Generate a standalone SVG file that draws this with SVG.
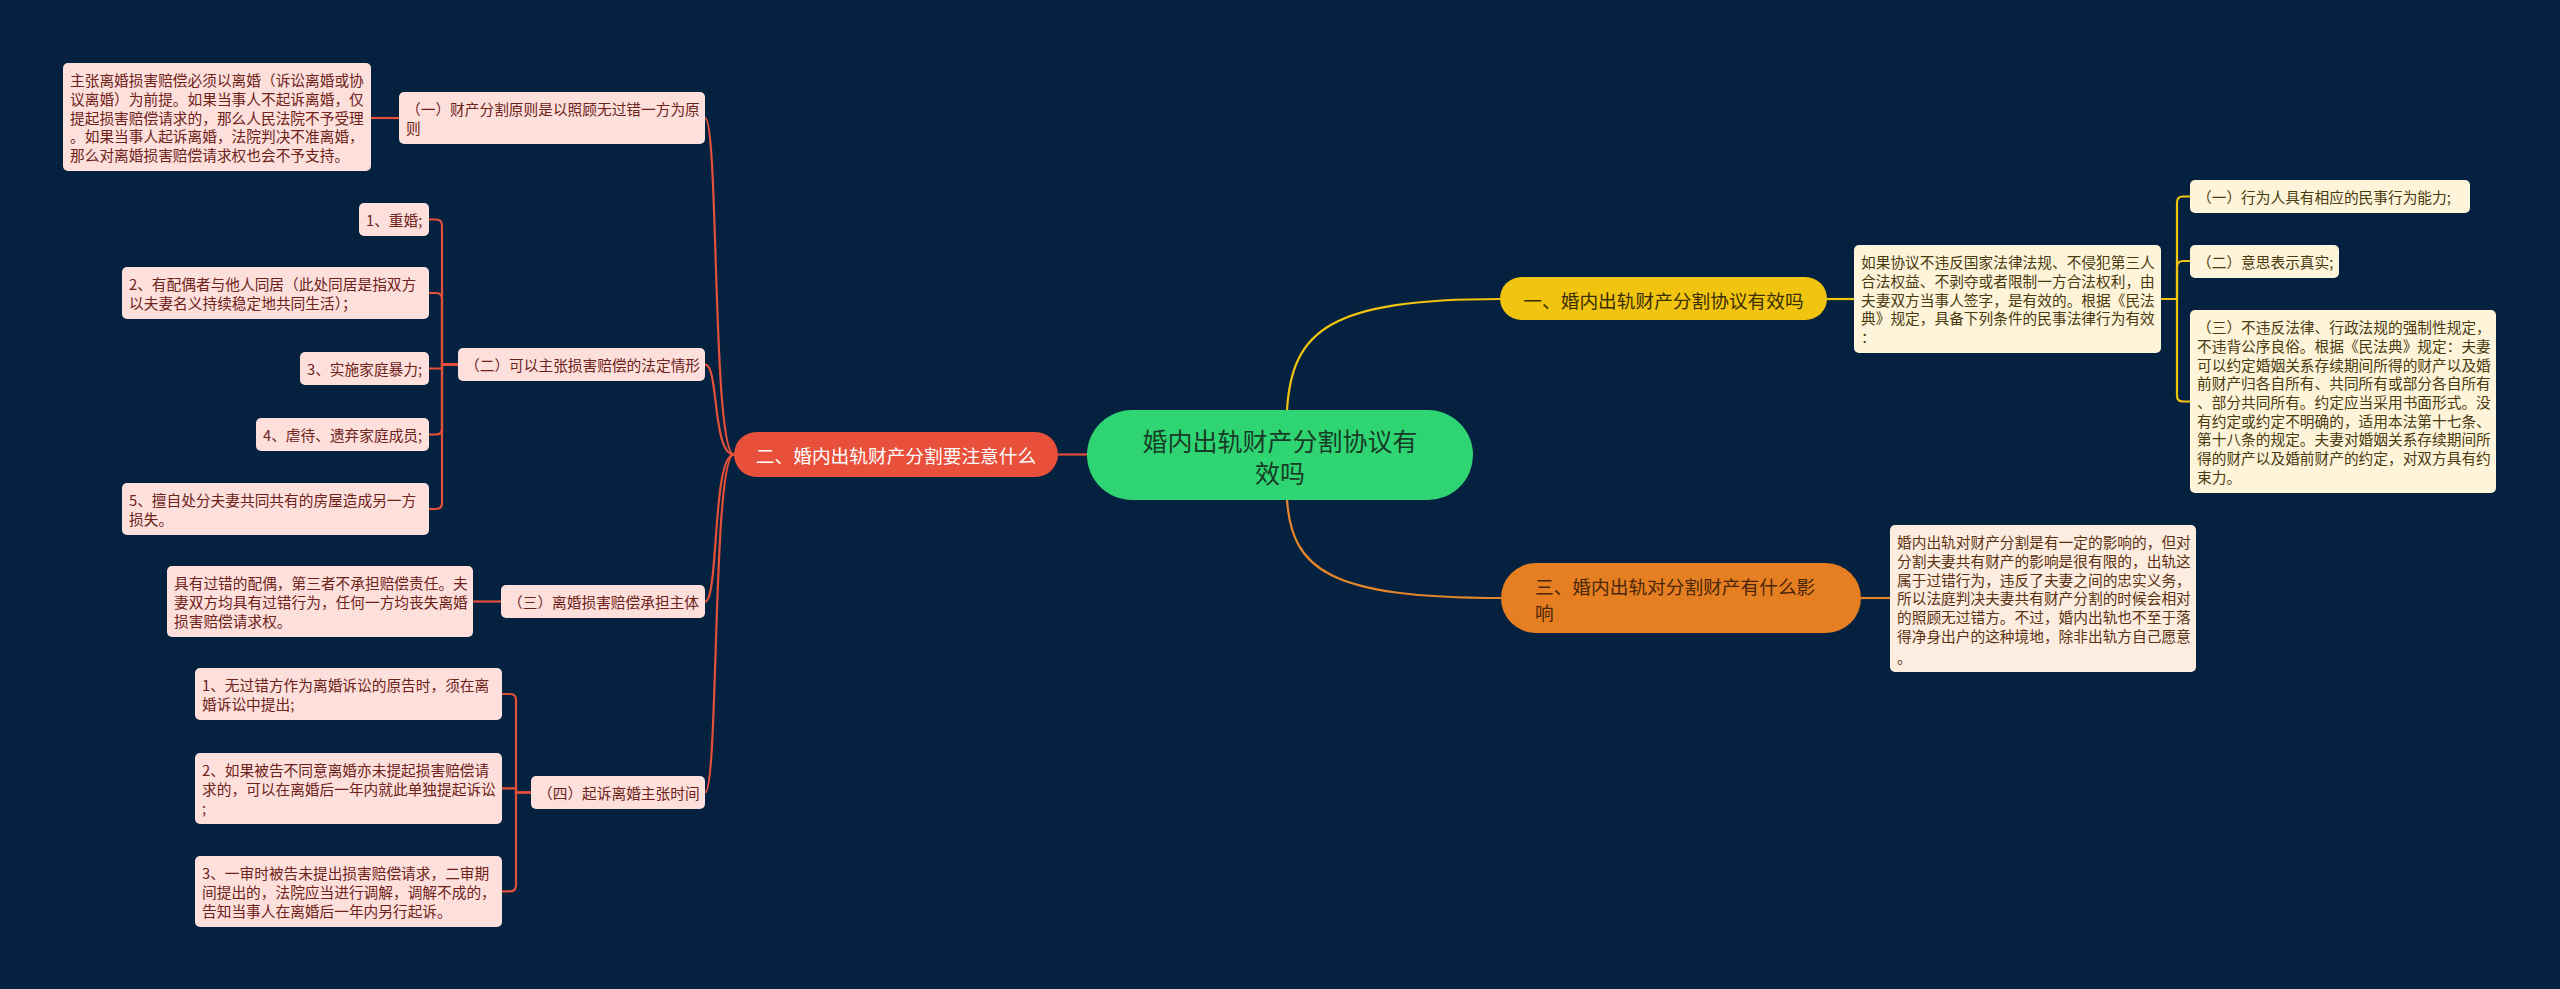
<svg xmlns="http://www.w3.org/2000/svg" width="2560" height="989" viewBox="0 0 2560 989">
<style>
text{font-family:"Noto Sans CJK SC","Noto Sans",sans-serif;dominant-baseline:central}
.lf{font-size:14.7px}
.red rect{fill:#fde0dc}
.red text{fill:#6e2219}
.yel rect{fill:#fdf4d9}
.yel text{fill:#4a3a10}
.org rect{fill:#fdece0}
.org text{fill:#5a3212}
.main{font-size:18.7px}
.lr{fill:none;stroke:#e55039;stroke-width:2.2}
.ly{fill:none;stroke:#f1c40f;stroke-width:2.2}
.lo{fill:none;stroke:#e6862a;stroke-width:2.2}
</style>
<rect x="0" y="0" width="2560" height="989" fill="#04213f"/>
<g id="connectors">
<path class="lr" d="M1087,454.5 H1058"/>
<path class="lr" d="M734,454.5 C712,454.5 719,118 705,118"/>
<path class="lr" d="M734,454.5 C712,454.5 719,364.5 705,364.5"/>
<path class="lr" d="M734,454.5 C712,454.5 719,601.5 705,601.5"/>
<path class="lr" d="M734,454.5 C712,454.5 719,792.5 705,792.5"/>
<path class="lr" d="M399,118 H371"/>
<path class="lr" d="M501,601.5 H473"/>
<path class="lr" d="M458,364.5 H442 V225.5 Q442,219.5 436,219.5 H429"/>
<path class="lr" d="M458,364.5 H442 V299 Q442,293 436,293 H429"/>
<path class="lr" d="M458,364.5 H442 V368.5 H429"/>
<path class="lr" d="M458,364.5 H442 V428.5 Q442,434.5 436,434.5 H429"/>
<path class="lr" d="M458,364.5 H442 V503 Q442,509 436,509 H429"/>
<path class="lr" d="M531,792.5 H516 V700 Q516,694 510,694 H502"/>
<path class="lr" d="M531,792.5 H516 V788.3 H502"/>
<path class="lr" d="M531,792.5 H516 V885.3 Q516,891.3 510,891.3 H502"/>
<path class="ly" d="M1287,410 C1292,330 1330,299 1500,299"/>
<path class="ly" d="M1827,299 H1854"/>
<path class="ly" d="M2161,299 H2177 V202.5 Q2177,196.5 2183,196.5 H2190"/>
<path class="ly" d="M2161,299 H2177 V267 Q2177,261 2183,261 H2190"/>
<path class="ly" d="M2161,299 H2177 V395.5 Q2177,401.5 2183,401.5 H2190"/>
<path class="lo" d="M1287,500 C1292,570 1330,598 1501,598"/>
<path class="lo" d="M1861,598 H1890"/>
</g>
<g id="center">
<rect x="1087" y="410" width="386" height="90" rx="45" fill="#2fd573"/>
<text x="1280" y="440" font-size="25" text-anchor="middle" fill="#173d26">婚内出轨财产分割协议有</text>
<text x="1280" y="472" font-size="25" text-anchor="middle" fill="#173d26">效吗</text>
</g>
<g id="main2">
<rect x="734" y="432" width="324" height="45" rx="22.5" fill="#e8503c"/>
<text class="main" x="896" y="454.5" text-anchor="middle" fill="#ffffff">二、婚内出轨财产分割要注意什么</text>
</g>
<g id="main1">
<rect x="1500" y="277" width="327" height="43" rx="21.5" fill="#f1c40f"/>
<text class="main" x="1663.5" y="299" text-anchor="middle" fill="#3a2e05">一、婚内出轨财产分割协议有效吗</text>
</g>
<g id="main3">
<rect x="1501" y="563" width="360" height="70" rx="35" fill="#e67e22"/>
<text class="main" x="1535" y="585" fill="#4a2708">三、婚内出轨对分割财产有什么影</text>
<text class="main" x="1535" y="611.5" fill="#4a2708">响</text>
</g>
<g id="leafA" class="red lf">
<rect x="63" y="63" width="308" height="108" rx="5"/>
<text x="70" y="79.6">主张离婚损害赔偿必须以离婚（诉讼离婚或协</text>
<text x="70" y="98.3">议离婚）为前提。如果当事人不起诉离婚，仅</text>
<text x="70" y="117">提起损害赔偿请求的，那么人民法院不予受理</text>
<text x="70" y="135.7">。如果当事人起诉离婚，法院判决不准离婚，</text>
<text x="70" y="154.4">那么对离婚损害赔偿请求权也会不予支持。</text>
</g>
<g id="sub1" class="red lf">
<rect x="399" y="92" width="306" height="52" rx="5"/>
<text x="406" y="108.6">（一）财产分割原则是以照顾无过错一方为原</text>
<text x="406" y="127.3">则</text>
</g>
<g id="sub2" class="red lf">
<rect x="458" y="348" width="247" height="33" rx="5"/>
<text x="465" y="364.5">（二）可以主张损害赔偿的法定情形</text>
</g>
<g id="s2c1" class="red lf">
<rect x="359" y="203" width="70" height="33" rx="5"/>
<text x="366" y="219.5">1、重婚;</text>
</g>
<g id="s2c2" class="red lf">
<rect x="122" y="267" width="307" height="52" rx="5"/>
<text x="129" y="283.6">2、有配偶者与他人同居（此处同居是指双方</text>
<text x="129" y="302.3">以夫妻名义持续稳定地共同生活）；</text>
</g>
<g id="s2c3" class="red lf">
<rect x="300" y="352" width="129" height="33" rx="5"/>
<text x="307" y="368.5">3、实施家庭暴力;</text>
</g>
<g id="s2c4" class="red lf">
<rect x="256" y="418" width="173" height="33" rx="5"/>
<text x="263" y="434.5">4、虐待、遗弃家庭成员;</text>
</g>
<g id="s2c5" class="red lf">
<rect x="122" y="483" width="307" height="52" rx="5"/>
<text x="129" y="499.6">5、擅自处分夫妻共同共有的房屋造成另一方</text>
<text x="129" y="518.3">损失。</text>
</g>
<g id="sub3" class="red lf">
<rect x="501" y="585" width="204" height="33" rx="5"/>
<text x="508" y="601.5">（三）离婚损害赔偿承担主体</text>
</g>
<g id="s3c1" class="red lf">
<rect x="167" y="566" width="306" height="71" rx="5"/>
<text x="174" y="582.6">具有过错的配偶，第三者不承担赔偿责任。夫</text>
<text x="174" y="601.3">妻双方均具有过错行为，任何一方均丧失离婚</text>
<text x="174" y="620">损害赔偿请求权。</text>
</g>
<g id="sub4" class="red lf">
<rect x="531" y="776" width="174" height="33" rx="5"/>
<text x="538" y="792.5">（四）起诉离婚主张时间</text>
</g>
<g id="s4c1" class="red lf">
<rect x="195" y="668" width="307" height="52" rx="5"/>
<text x="202" y="684.6">1、无过错方作为离婚诉讼的原告时，须在离</text>
<text x="202" y="703.3">婚诉讼中提出;</text>
</g>
<g id="s4c2" class="red lf">
<rect x="195" y="753" width="307" height="71" rx="5"/>
<text x="202" y="769.6">2、如果被告不同意离婚亦未提起损害赔偿请</text>
<text x="202" y="788.3">求的，可以在离婚后一年内就此单独提起诉讼</text>
<text x="202" y="807">;</text>
</g>
<g id="s4c3" class="red lf">
<rect x="195" y="856" width="307" height="71" rx="5"/>
<text x="202" y="872.6">3、一审时被告未提出损害赔偿请求，二审期</text>
<text x="202" y="891.3">间提出的，法院应当进行调解，调解不成的，</text>
<text x="202" y="910">告知当事人在离婚后一年内另行起诉。</text>
</g>
<g id="r1leaf" class="yel lf">
<rect x="1854" y="245" width="307" height="108" rx="5"/>
<text x="1861" y="261.6">如果协议不违反国家法律法规、不侵犯第三人</text>
<text x="1861" y="280.3">合法权益、不剥夺或者限制一方合法权利，由</text>
<text x="1861" y="299">夫妻双方当事人签字，是有效的。根据《民法</text>
<text x="1861" y="317.7">典》规定，具备下列条件的民事法律行为有效</text>
<text x="1861" y="336.4">：</text>
</g>
<g id="r1c1" class="yel lf">
<rect x="2190" y="180" width="280" height="33" rx="5"/>
<text x="2197" y="196.5">（一）行为人具有相应的民事行为能力;</text>
</g>
<g id="r1c2" class="yel lf">
<rect x="2190" y="245" width="149" height="33" rx="5"/>
<text x="2197" y="261">（二）意思表示真实;</text>
</g>
<g id="r1c3" class="yel lf">
<rect x="2190" y="310" width="306" height="183" rx="5"/>
<text x="2197" y="326.6">（三）不违反法律、行政法规的强制性规定，</text>
<text x="2197" y="345.3">不违背公序良俗。根据《民法典》规定：夫妻</text>
<text x="2197" y="364">可以约定婚姻关系存续期间所得的财产以及婚</text>
<text x="2197" y="382.7">前财产归各自所有、共同所有或部分各自所有</text>
<text x="2197" y="401.4">、部分共同所有。约定应当采用书面形式。没</text>
<text x="2197" y="420.1">有约定或约定不明确的，适用本法第十七条、</text>
<text x="2197" y="438.8">第十八条的规定。夫妻对婚姻关系存续期间所</text>
<text x="2197" y="457.5">得的财产以及婚前财产的约定，对双方具有约</text>
<text x="2197" y="476.2">束力。</text>
</g>
<g id="r3leaf" class="org lf">
<rect x="1890" y="525" width="306" height="147" rx="5"/>
<text x="1897" y="541.6">婚内出轨对财产分割是有一定的影响的，但对</text>
<text x="1897" y="560.3">分割夫妻共有财产的影响是很有限的，出轨这</text>
<text x="1897" y="579">属于过错行为，违反了夫妻之间的忠实义务，</text>
<text x="1897" y="597.7">所以法庭判决夫妻共有财产分割的时候会相对</text>
<text x="1897" y="616.4">的照顾无过错方。不过，婚内出轨也不至于落</text>
<text x="1897" y="635.1">得净身出户的这种境地，除非出轨方自己愿意</text>
<text x="1897" y="656">。</text>
</g>
</svg>
